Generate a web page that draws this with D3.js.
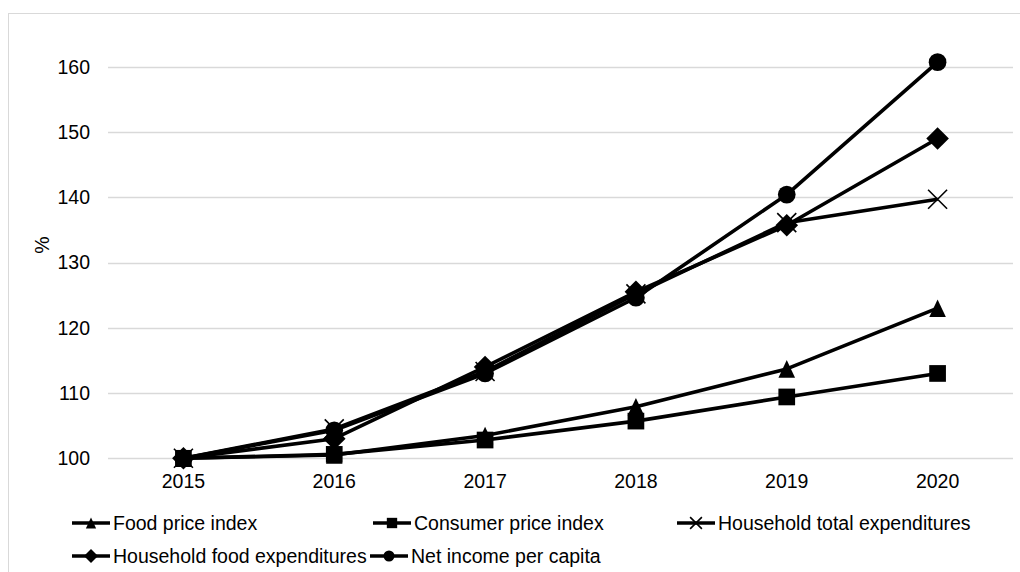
<!DOCTYPE html>
<html>
<head>
<meta charset="utf-8">
<script src="https://cdn.jsdelivr.net/npm/d3@7"></script>
<style>
  body { margin: 0; background: #fff; }
  svg text { font-family: "Liberation Sans", Arial, sans-serif; font-size: 19.5px; fill: #000; }
</style>
</head>
<body>
<div id="chart"></div>
<script>
// years on the x axis
var years = ["2015", "2016", "2017", "2018", "2019", "2020"];
var yTicks = [100, 110, 120, 130, 140, 150, 160];

// index values, 2015 = 100
var foodPrice = [100, 100.5, 103.5, 107.9, 113.7, 123.0];
var consumerPrice = [100, 100.6, 102.8, 105.7, 109.4, 113.0];
var hhTotalExp = [100, 104.5, 113.3, 125.2, 136.1, 139.7];
var hhFoodExp = [100, 103.0, 114.0, 125.5, 135.7, 149.0];
var netIncome = [100, 104.3, 113.0, 124.6, 140.4, 160.7];

var seriesNames = ["Food price index", "Consumer price index", "Household total expenditures",
                   "Household food expenditures", "Net income per capita"];
var seriesValues = [foodPrice, consumerPrice, hhTotalExp, hhFoodExp, netIncome];
var seriesMarks = ["triangle", "square", "x", "diamond", "circle"];

var width = 1020, height = 572;
var svg = d3.select("#chart").append("svg")
    .attr("width", width).attr("height", height);

// light frame round the whole chart area
svg.append("rect")
    .attr("x", 8.5).attr("y", 13.5)
    .attr("width", 1030).attr("height", 580)
    .attr("fill", "none").attr("stroke", "#d9d9d9");

var x = d3.scaleBand().domain(years).range([108, 1013]);
var y = d3.scaleLinear().domain([100, 160]).range([458.3, 66.7]);
function cx(i) { return x(years[i]) + x.bandwidth() / 2; }

// gridlines (the 100 one doubles as the axis line)
svg.append("g").selectAll("line")
    .data(yTicks)
  .enter().append("line")
    .attr("x1", x.range()[0]).attr("x2", x.range()[1])
    .attr("y1", function(d) { return Math.round(y(d)) + 0.5; })
    .attr("y2", function(d) { return Math.round(y(d)) + 0.5; })
    .attr("stroke", "#d9d9d9").attr("stroke-width", 1.3);

// y tick labels
svg.append("g").selectAll("text")
    .data(yTicks)
  .enter().append("text")
    .attr("x", 90).attr("y", function(d) { return y(d); })
    .attr("dy", "0.35em")
    .style("text-anchor", "end")
    .text(function(d) { return d; });

// x tick labels
svg.append("g").selectAll("text")
    .data(years)
  .enter().append("text")
    .attr("x", function(d) { return x(d) + x.bandwidth() / 2; })
    .attr("y", 488)
    .style("text-anchor", "middle")
    .text(function(d) { return d; });

// y axis title
svg.append("text")
    .attr("transform", "translate(49,245)rotate(-90)")
    .style("text-anchor", "middle")
    .text("%");

// marker path for a given kind and scale factor
function markPath(kind, k) {
  if (kind === "x") {
    var r = 9.5 * k;
    return "M" + (-r) + "," + (-r) + "L" + r + "," + r + "M" + (-r) + "," + r + "L" + r + "," + (-r);
  }
  if (kind === "triangle") {
    var w = 8.3 * k, h = 8.8 * k;
    return "M0," + (-h) + "L" + w + "," + h + "L" + (-w) + "," + h + "Z";
  }
  if (kind === "square") return d3.symbol(d3.symbolSquare, 279 * k * k)();
  if (kind === "diamond") {
    var s = 11.3 * k;
    return "M0," + (-s) + "L" + s + ",0L0," + s + "L" + (-s) + ",0Z";
  }
  return d3.symbol(d3.symbolCircle, 246 * k * k)();
}

function drawMark(sel, kind) {
  if (kind === "x") sel.attr("fill", "none").attr("stroke", "#000").attr("stroke-width", 1.6);
  else sel.attr("fill", "#000").attr("stroke", "none");
}

var line = d3.line()
    .x(function(d, i) { return cx(i); })
    .y(function(d) { return y(d); });

seriesValues.forEach(function(vals, s) {
  var g = svg.append("g");
  g.append("path")
      .attr("d", line(vals))
      .attr("fill", "none").attr("stroke", "#000")
      .attr("stroke-width", 3.6).attr("stroke-linejoin", "round");
  g.selectAll("path.mark")
      .data(vals)
    .enter().append("path")
      .attr("class", "mark")
      .attr("transform", function(d, i) { return "translate(" + cx(i) + "," + y(d) + ")"; })
      .attr("d", markPath(seriesMarks[s], 1))
      .call(drawMark, seriesMarks[s]);
});

// legend, 3 columns then wrap
var legX = [72, 373, 677], legY = [523, 556];
var leg = svg.append("g").selectAll("g")
    .data(seriesNames)
  .enter().append("g")
    .attr("transform", function(d, i) {
      var col = i % 3, row = Math.floor(i / 3);
      var lx = (row === 1 && col === 1) ? 370 : legX[col];
      return "translate(" + lx + "," + legY[row] + ")";
    });

leg.append("line")
    .attr("x1", 0).attr("x2", 38)
    .attr("stroke", "#000").attr("stroke-width", 3.6);
leg.append("path")
    .attr("transform", "translate(19,0)")
    .attr("d", function(d, i) { return markPath(seriesMarks[i], 0.62); })
    .each(function(d, i) { drawMark(d3.select(this), seriesMarks[i]); });
leg.append("text")
    .attr("x", 41).attr("y", 0).attr("dy", "0.35em")
    .text(function(d) { return d; });
</script>
</body>
</html>
